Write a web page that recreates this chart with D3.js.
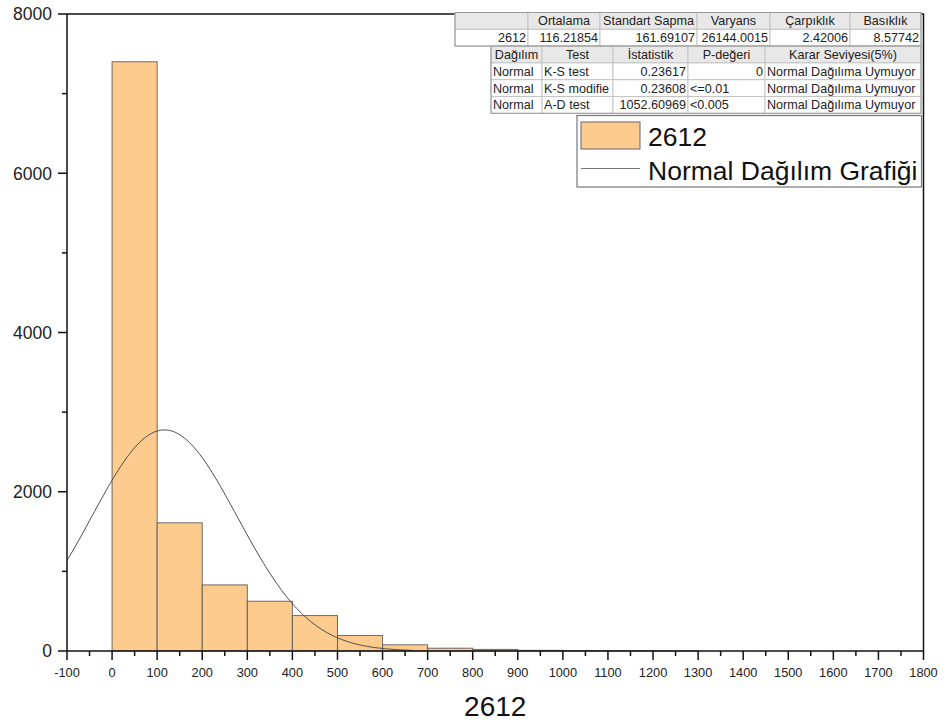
<!DOCTYPE html>
<html><head><meta charset="utf-8">
<script src="https://cdn.jsdelivr.net/npm/d3@7"></script>
<style>body{margin:0;background:#fff}svg{display:block;font-family:"Liberation Sans",Arial,sans-serif}</style>
</head><body>
<svg id="c" width="945" height="728"></svg>
<script>
// ---- data ----
const binStarts = [0,100,200,300,400,500,600,700,800,900,1000,1100,1200];
const binWidth = 100;
const counts = [7400,1610,830,625,445,195,78,35,20,8,4,2,1];
const fitMean = 116.21854;
const fitSD = 161.69107;
const xTicks = d3.range(-100, 1801, 100);
const yTicks = [0,2000,4000,6000,8000];
const statsHeader = ["", "Ortalama", "Standart Sapma", "Varyans", "Çarpıklık", "Basıklık"];
const statsRow = ["2612", "116.21854", "161.69107", "26144.0015", "2.42006", "8.57742"];
const testHeader = ["Dağılım", "Test", "İstatistik", "P-değeri", "Karar Seviyesi(5%)"];
const testRows = [
  ["Normal", "K-S test", "0.23617", "0", "Normal Dağılıma Uymuyor"],
  ["Normal", "K-S modifie", "0.23608", "<=0.01", "Normal Dağılıma Uymuyor"],
  ["Normal", "A-D test", "1052.60969", "<0.005", "Normal Dağılıma Uymuyor"]
];
const seriesName = "2612";
const curveName = "Normal Dağılım Grafiği";
const xTitle = "2612";

// ---- layout ----
const svg = d3.select("#c");
const L = 67, R = 923.5, T = 14, B = 651;
const x = d3.scaleLinear().domain([-100, 1800]).range([L, R]);
const y = d3.scaleLinear().domain([0, 8000]).range([B, T]);
const fill = "#FECB8F";

// frame (top/right)
svg.append("path").attr("d", `M${L},${T}H${R}V${B}`).attr("fill","none").attr("stroke","#111").attr("stroke-width",1.5);

// bars
svg.append("g").selectAll("rect").data(binStarts.map((s,i)=>({s, c:counts[i]})).filter(d=>d.c>0))
  .join("rect")
  .attr("x", d=>x(d.s)).attr("width", d=>x(d.s+binWidth)-x(d.s))
  .attr("y", d=>y(d.c)).attr("height", d=>y(0)-y(d.c))
  .attr("fill", fill).attr("stroke","#555").attr("stroke-width",1).attr("stroke-opacity",0.85);

// normal curve
const N = d3.sum(counts);
const pdf = v => N*binWidth/(fitSD*Math.sqrt(2*Math.PI))*Math.exp(-0.5*((v-fitMean)/fitSD)**2);
const c0 = Math.max(-100, fitMean-3.4*fitSD), c1 = fitMean+3.4*fitSD;
const pts = d3.range(0, 201).map(i => c0 + (c1-c0)*i/200);
svg.append("path").datum(pts)
  .attr("d", d3.line().x(v=>x(v)).y(v=>y(pdf(v))).curve(d3.curveLinear))
  .attr("fill","none").attr("stroke","#4a4a4a").attr("stroke-width",1);

// x axis
const xAxis = svg.append("g").attr("transform", `translate(0,${B})`);
xAxis.append("line").attr("x1",L).attr("x2",R).attr("stroke","#111").attr("stroke-width",1.5);
xAxis.selectAll(".maj").data(xTicks).join("line").attr("x1",d=>x(d)).attr("x2",d=>x(d)).attr("y1",0).attr("y2",9).attr("stroke","#111").attr("stroke-width",1.5);
xAxis.selectAll(".min").data(xTicks.slice(0,-1).map(d=>d+50)).join("line").attr("x1",d=>x(d)).attr("x2",d=>x(d)).attr("y1",0).attr("y2",5).attr("stroke","#111").attr("stroke-width",1.5);
xAxis.selectAll("text").data(xTicks).join("text").attr("x",d=>x(d)).attr("y",26).attr("text-anchor","middle")
  .attr("font-size",12.8).attr("fill","#222").text(d=>d);

// y axis
const yAxis = svg.append("g").attr("transform", `translate(${L},0)`);
yAxis.append("line").attr("y1",T).attr("y2",B).attr("stroke","#111").attr("stroke-width",1.5);
yAxis.selectAll(".maj").data(yTicks).join("line").attr("x1",-9).attr("x2",0).attr("y1",d=>y(d)).attr("y2",d=>y(d)).attr("stroke","#111").attr("stroke-width",1.5);
yAxis.selectAll(".min").data(yTicks.slice(0,-1).map(d=>d+1000)).join("line").attr("x1",-5).attr("x2",0).attr("y1",d=>y(d)).attr("y2",d=>y(d)).attr("stroke","#111").attr("stroke-width",1.5);
yAxis.selectAll("text").data(yTicks).join("text").attr("x",-15).attr("y",d=>y(d)).attr("dy","0.36em").attr("text-anchor","end")
  .attr("font-size",17.5).attr("fill","#222").text(d=>d);

// axis title
svg.append("text").attr("x",(L+R)/2).attr("y",716).attr("text-anchor","middle").attr("font-size",28).attr("fill","#111").text(xTitle);

// ---- tables ----
const rowH = 16.8, fs = 12.6;
const isNum = s => s!=="" && !isNaN(+s);
function drawTable(x0, y0, cols, rows, headerRow) {
  const g = svg.append("g");
  const all = [headerRow, ...rows];
  all.forEach((row, ri) => {
    const ry = y0 + ri*rowH;
    row.forEach((cell, ci) => {
      const cx0 = cols[ci], cx1 = cols[ci+1];
      g.append("rect").attr("x",cx0).attr("y",ry).attr("width",cx1-cx0).attr("height",rowH)
        .attr("fill", ri===0 ? "#e8e8e8" : "#fff").attr("stroke","#c4c4c4").attr("stroke-width",1);
      const t = g.append("text").attr("y", ry+rowH/2).attr("dy","0.36em").attr("font-size",fs).attr("fill","#222").text(cell);
      if (ri===0) t.attr("x",(cx0+cx1)/2).attr("text-anchor","middle");
      else if (isNum(cell)) t.attr("x",cx1-2).attr("text-anchor","end");
      else t.attr("x",cx0+2).attr("text-anchor","start");
    });
  });
  g.append("rect").attr("x",cols[0]).attr("y",y0).attr("width",cols[cols.length-1]-cols[0]).attr("height",rowH*all.length)
    .attr("fill","none").attr("stroke","#999").attr("stroke-width",1);
}
drawTable(455, 12.5, [455,528,600,697,770,850,921], [statsRow], statsHeader);
drawTable(491, 12.5+2*rowH, [491,542,613,688,765,921], testRows, testHeader);

// ---- legend ----
const lg = svg.append("g");
lg.append("rect").attr("x",577).attr("y",115.5).attr("width",344.5).attr("height",71.5).attr("fill","#fff").attr("stroke","#777").attr("stroke-width",1.2);
lg.append("rect").attr("x",581).attr("y",122).attr("width",59).attr("height",27).attr("fill",fill).attr("stroke","#666").attr("stroke-width",1);
lg.append("text").attr("x",648).attr("y",145.5).attr("font-size",26.5).attr("fill","#111").text(seriesName);
lg.append("line").attr("x1",581).attr("x2",640).attr("y1",168.5).attr("y2",168.5).attr("stroke","#777").attr("stroke-width",1);
lg.append("text").attr("x",648).attr("y",179.5).attr("font-size",26.5).attr("fill","#111").text(curveName);
</script>
</body></html>
